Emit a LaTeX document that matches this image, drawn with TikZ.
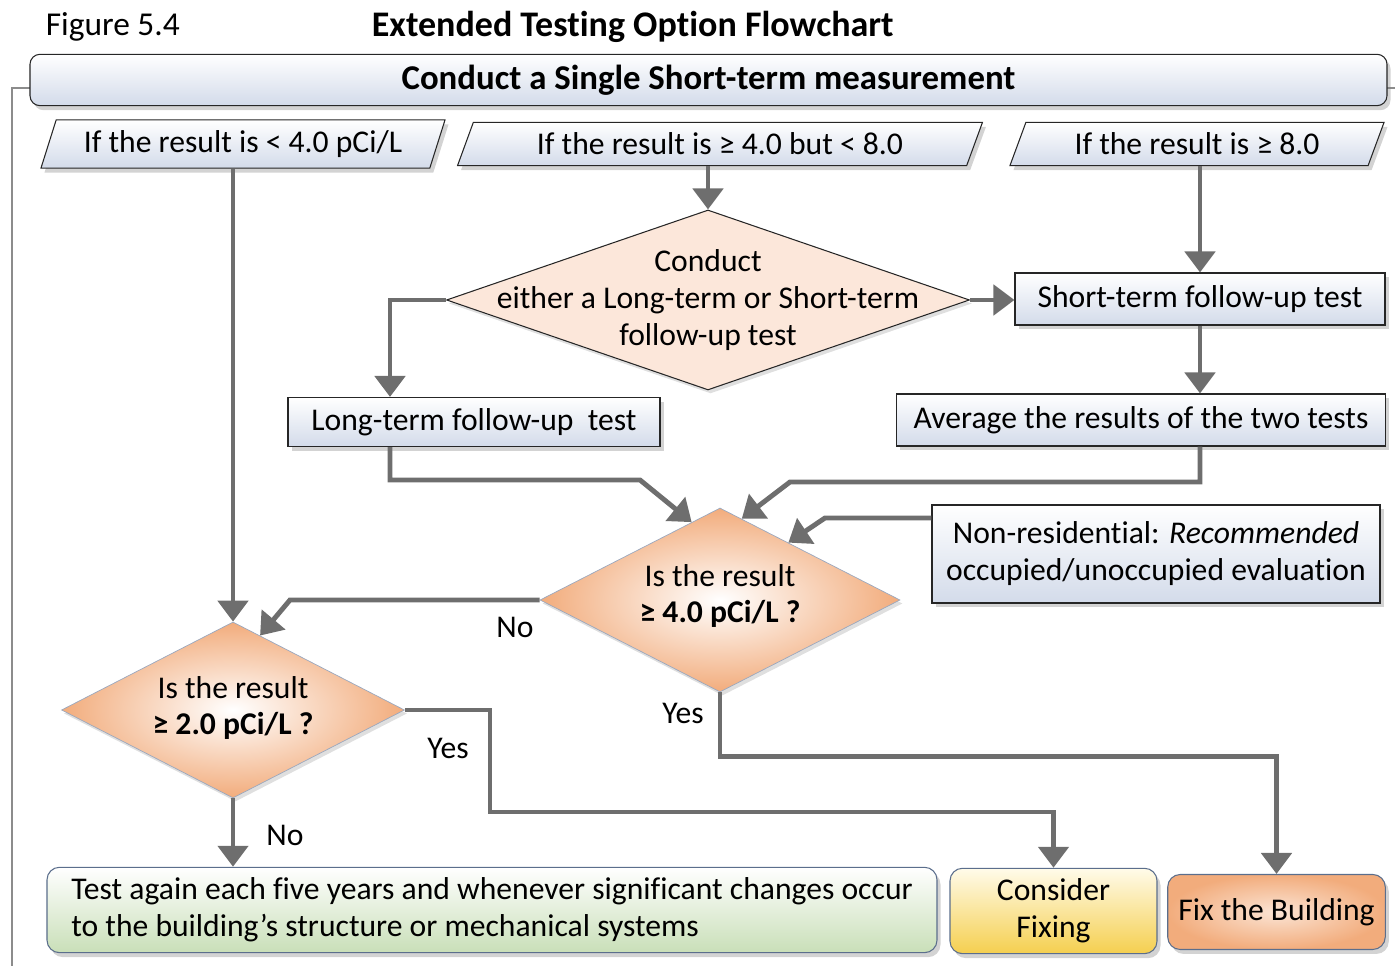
\documentclass[tikz,border=0pt]{standalone}
\usepackage{fontspec}
\setmainfont{Carlito}[Ligatures=NoCommon]
\usetikzlibrary{positioning, calc, shapes.geometric, shadows, arrows.meta}
\definecolor{xarrow}{HTML}{6E6E6E}
\definecolor{xblue}{HTML}{D3DBEA}
\definecolor{xpeach}{HTML}{F2AC7C}
\definecolor{xpeachlight}{HTML}{FBE4D4}
\definecolor{xpale}{HTML}{FCE7DA}
\definecolor{xgreen}{HTML}{C9DFB8}
\definecolor{xcream}{HTML}{FFFBEA}
\definecolor{xyellow}{HTML}{F5CF4F}
\definecolor{xframe}{HTML}{8C8C8C}
\definecolor{xedge}{HTML}{9AA8BF}
\definecolor{xedgedark}{HTML}{5B6E8C}
\tikzset{
	arrow/.style={line width=2.8pt, draw=xarrow, -{Triangle[width=0.6cm, length=0.42cm]}},
	frame/.style={draw=xframe, line width=1.2pt},
	box/.style={draw=black!85, semithick, top color=white, bottom color=xblue,
		drop shadow={shadow xshift=0.07cm, shadow yshift=-0.09cm, opacity=0.35}},
	header/.style={box, rounded corners=0.2cm, minimum width=27.14cm, minimum height=0.92cm,
		font=\bfseries\fontsize{19.8}{23}\selectfont},
	rangebox/.style={box, trapezium, trapezium left angle=74, trapezium right angle=106,
		trapezium stretches=true, minimum height=0.86cm},
	choice/.style={diamond, draw=black!85, semithick, fill=xpale, inner sep=0pt,
		drop shadow={shadow xshift=0.05cm, shadow yshift=-0.07cm, opacity=0.25}},
	check/.style={diamond, draw=xedge, thin, inner color=white, outer color=xpeach, inner sep=0pt,
		drop shadow={shadow xshift=0.05cm, shadow yshift=-0.07cm, opacity=0.25}},
	result/.style={draw=xedgedark, semithick, rounded corners=0.25cm, minimum height=1.5cm,
		drop shadow={shadow xshift=0.07cm, shadow yshift=-0.09cm, opacity=0.35}},
	retest/.style={result, top color=white, bottom color=xgreen, minimum width=17.8cm, align=left},
	consider/.style={result, top color=xcream, bottom color=xyellow, minimum width=4.14cm, align=center},
	fixbox/.style={result, inner color=xpeachlight, outer color=xpeach, minimum width=4.14cm},
}

\begin{document}
\begin{tikzpicture}
	\fontsize{18}{21}\selectfont
	\useasboundingbox (0,0) rectangle (27.9,19.32);
	% title
	\node[anchor=west, font=\fontsize{19}{23}\selectfont] (fig) at (0.7,18.78) {Figure 5.4};
	\node[anchor=west, font=\bfseries\fontsize{20.5}{24}\selectfont] (title) at (7.22,18.78) {Extended Testing Option Flowchart};

	% frame
	\draw[frame] (0.6,17.56) -- (0.24,17.56) -- (0.24,0);
	\draw[frame] (27.74,17.56) -- (27.9,17.56);

	% first measurement
	\node[header] (head) at (14.17,17.72) {Conduct a Single Short-term measurement};
	\node[rangebox, minimum width=8.1cm] (low) at (4.86,16.44) {If the result is < 4.0 pCi/L};
	\node[rangebox, minimum width=10.52cm] (mid) at (14.4,16.44) {If the result is ≥ 4.0 but < 8.0};
	\node[rangebox, minimum width=7.5cm] (high) at (23.94,16.44) {If the result is ≥ 8.0};

	% follow-up
	\node[choice, minimum width=10.46cm, minimum height=3.6cm] (cond) at (14.16,13.32) {};
	\node[align=center] (condtxt) at (cond.center) {Conduct\\either a Long-term or Short-term\\follow-up test};
	\node[box, minimum width=7.4cm, minimum height=1.04cm] (short) at (24.0,13.34) {Short-term follow-up test};
	\node[box, minimum width=7.44cm, minimum height=0.98cm] (long) at (9.48,10.88) {Long-term follow-up\ \ test};
	\node[box, minimum width=9.78cm, minimum height=1.04cm] (avg) at (22.82,10.92) {Average the results of the two tests};
	\node[box, align=center, minimum width=8.96cm, minimum height=1.96cm] (nonres) at (23.12,8.24) {Non-residential: \textit{Recommended}\\occupied/unoccupied evaluation};

	% decisions
	\node[check, minimum width=7.2cm, minimum height=3.68cm] (four) at (14.4,7.32) {};
	\node[align=center] (fourtxt) at ([yshift=0.08cm]four.center) {Is the result\\\textbf{≥ 4.0 pCi/L ?}};
	\node[check, minimum width=6.86cm, minimum height=3.52cm] (two) at (4.66,5.12) {};
	\node[align=center] (twotxt) at ([yshift=0.04cm]two.center) {Is the result\\\textbf{≥ 2.0 pCi/L ?}};

	% outcomes
	\node[retest] (again) at (9.84,1.12) {Test again each five years and whenever significant changes occur\\to the building’s structure or mechanical systems};
	\node[consider] (maybe) at (21.07,1.10) {Consider\\Fixing};
	\node[fixbox] (fixit) at (25.53,1.08) {Fix the Building};

	% arrows
	\draw[arrow] (mid.south -| cond.north) -- (cond.north);
	\draw[arrow] (high.south -| short.north) -- (short.north);
	\draw[arrow] (cond.east) -- (cond.east -| short.west);
	\draw[arrow] (cond.west) -| ([xshift=-1.68cm]long.north);
	\draw[arrow] (short.south) -- (short.south |- avg.north);
	\draw[arrow] ([xshift=-1.68cm]long.south) |- (12.8,9.72) -- (four.110);
	\draw[arrow] (avg.south -| short.south) |- (15.8,9.68) -- (four.75);
	\draw[arrow] ([yshift=0.72cm]nonres.west) -- (16.5,8.96) -- (four.40);
	\draw[arrow] (low.south -| two.north) -- (two.north);
	\draw[arrow] (four.west) -- (5.8,7.32) -- (two.70);
	\draw[arrow] (two.east) -| (9.8,3.08) -| (maybe.north);
	\draw[arrow] (four.south) -- ++(0,-1.28) -| (fixit.north);
	\draw[arrow] (two.south) -- (two.south |- again.north);

	% labels
	\node (no1) at (10.3,6.78) {No};
	\node (yes1) at (13.66,5.06) {Yes};
	\node (yes2) at (8.96,4.36) {Yes};
	\node (no2) at (5.7,2.62) {No};
\end{tikzpicture}
\end{document}
